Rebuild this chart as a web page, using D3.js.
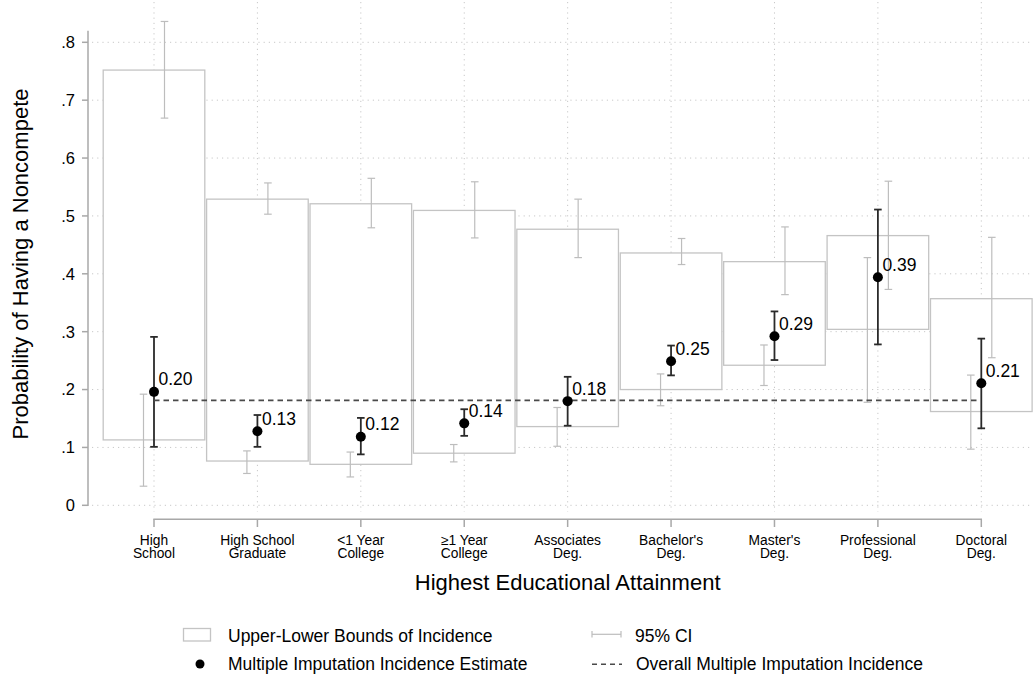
<!DOCTYPE html>
<html>
<head>
<meta charset="utf-8">
<script src="https://cdn.jsdelivr.net/npm/d3@7"></script>
<style>
  body { margin: 0; background: #fff; }
  svg { font-family: "Liberation Sans", Arial, Helvetica, sans-serif; }
</style>
</head>
<body>
<div id="chart"></div>
<script>
// categories (two-line tick labels)
const categories = ["hs", "hsg", "lt1", "ge1", "assoc", "bach", "mast", "prof", "doct"];
const tickLabels = [
  ["High", "School"], ["High School", "Graduate"], ["<1 Year", "College"], ["\u22651 Year", "College"],
  ["Associates", "Deg."], ["Bachelor's", "Deg."], ["Master's", "Deg."], ["Professional", "Deg."], ["Doctoral", "Deg."]
];

// box = upper/lower bounds of incidence
const boundUpper = [0.752, 0.529, 0.521, 0.5095, 0.477, 0.436, 0.421, 0.466, 0.357];
const boundLower = [0.113, 0.0765, 0.0708, 0.090, 0.136, 0.200, 0.242, 0.304, 0.162];

// 95% CI of the upper bound
const upperCiHi = [0.836, 0.557, 0.565, 0.559, 0.529, 0.461, 0.481, 0.560, 0.463];
const upperCiLo = [0.669, 0.503, 0.4795, 0.462, 0.428, 0.416, 0.364, 0.373, 0.255];

// 95% CI of the lower bound
const lowerCiHi = [0.192, 0.094, 0.092, 0.105, 0.169, 0.227, 0.277, 0.428, 0.225];
const lowerCiLo = [0.033, 0.055, 0.049, 0.075, 0.102, 0.172, 0.207, 0.178, 0.097];

// multiple imputation estimate and its CI
const estimate = [0.196, 0.128, 0.1185, 0.1416, 0.180, 0.249, 0.292, 0.394, 0.211];
const estCiHi  = [0.291, 0.156, 0.151, 0.166, 0.222, 0.276, 0.335, 0.511, 0.288];
const estCiLo  = [0.101, 0.101, 0.088, 0.120, 0.1375, 0.2245, 0.251, 0.278, 0.133];

const overall = 0.1813;
const yTicks = [0, 0.1, 0.2, 0.3, 0.4, 0.5, 0.6, 0.7, 0.8];

const WIDTH = 1036, HEIGHT = 679;

const svg = d3.select("#chart").append("svg")
  .attr("width", WIDTH)
  .attr("height", HEIGHT);

const x = d3.scalePoint().domain(categories).range([154, 981.3]);
const y = d3.scaleLinear().domain([0, 0.8]).range([505.3, 42.3]);
const step = x.step();
const barW = step - 1.8;

const rows = categories.map((c, i) => ({
  c, i,
  bu: boundUpper[i], bl: boundLower[i],
  uh: upperCiHi[i], ul: upperCiLo[i],
  lh: lowerCiHi[i], ll: lowerCiLo[i],
  e: estimate[i], eh: estCiHi[i], el: estCiLo[i]
}));

// grid
const grid = svg.append("g").attr("stroke", "#c8c8c8").attr("stroke-width", 1)
  .attr("stroke-dasharray", "1.2,4");
grid.selectAll("line.h").data(yTicks).enter().append("line")
  .attr("x1", 92).attr("x2", 1032)
  .attr("y1", d => y(d)).attr("y2", d => y(d));
grid.selectAll("line.v").data(categories).enter().append("line")
  .attr("x1", d => x(d)).attr("x2", d => x(d))
  .attr("y1", 2).attr("y2", 512);

// boxes
svg.append("g").selectAll("rect").data(rows).enter().append("rect")
  .attr("x", d => x(d.c) - barW / 2)
  .attr("width", barW)
  .attr("y", d => y(d.bu))
  .attr("height", d => y(d.bl) - y(d.bu))
  .attr("fill", "#fff")
  .attr("stroke", "#c4c4c4")
  .attr("stroke-width", 1.3);

function ciBars(g, data, dx, hi, lo, color, sw, cap) {
  const s = g.selectAll(null).data(data).enter().append("g")
    .attr("stroke", color).attr("stroke-width", sw);
  s.append("line")
    .attr("x1", d => x(d.c) + dx).attr("x2", d => x(d.c) + dx)
    .attr("y1", d => y(hi(d))).attr("y2", d => y(lo(d)));
  s.append("line")
    .attr("x1", d => x(d.c) + dx - cap).attr("x2", d => x(d.c) + dx + cap)
    .attr("y1", d => y(hi(d))).attr("y2", d => y(hi(d)));
  s.append("line")
    .attr("x1", d => x(d.c) + dx - cap).attr("x2", d => x(d.c) + dx + cap)
    .attr("y1", d => y(lo(d))).attr("y2", d => y(lo(d)));
}

const ciG = svg.append("g");
ciBars(ciG, rows, 10.5, d => d.uh, d => d.ul, "#bdbdbd", 1.2, 3.8);
ciBars(ciG, rows, -10.5, d => d.lh, d => d.ll, "#bdbdbd", 1.2, 3.8);

// overall dashed line
svg.append("line")
  .attr("x1", x(categories[0])).attr("x2", x(categories[categories.length - 1]) - 4)
  .attr("y1", y(overall)).attr("y2", y(overall))
  .attr("stroke", "#4a4a4a").attr("stroke-width", 1.6)
  .attr("stroke-dasharray", "5.5,4");

// estimates
ciBars(ciG.append("g"), rows, 0, d => d.eh, d => d.el, "#2a2a2a", 1.8, 3.8);
svg.append("g").selectAll("circle").data(rows).enter().append("circle")
  .attr("cx", d => x(d.c)).attr("cy", d => y(d.e)).attr("r", 5)
  .attr("fill", "#000");
svg.append("g").selectAll("text").data(rows).enter().append("text")
  .attr("x", d => x(d.c) + 4.5).attr("y", d => y(d.e) - 6.5)
  .attr("font-size", 17.5).attr("fill", "#000")
  .text(d => d3.format(".2f")(d.e));

// y axis
const yAxis = svg.append("g").attr("stroke", "#a8a8a8").attr("stroke-width", 1.5);
yAxis.append("line").attr("x1", 88).attr("x2", 88).attr("y1", y(0.82)).attr("y2", y(0) + 0.7);
yAxis.selectAll("line.t").data(yTicks).enter().append("line")
  .attr("x1", 82).attr("x2", 88).attr("y1", d => y(d)).attr("y2", d => y(d));
svg.append("g").selectAll("text").data(yTicks).enter().append("text")
  .attr("x", 75).attr("y", d => y(d)).attr("dy", "0.36em")
  .attr("text-anchor", "end").attr("font-size", 16.5).attr("fill", "#000")
  .text(d => d === 0 ? "0" : d3.format(".1f")(d).replace(/^0/, ""));

svg.append("text")
  .attr("transform", "translate(28,264) rotate(-90)")
  .attr("text-anchor", "middle").attr("font-size", 22).attr("fill", "#000")
  .text("Probability of Having a Noncompete");

// x axis
const xAxis = svg.append("g").attr("stroke", "#a8a8a8").attr("stroke-width", 1.5);
xAxis.append("line").attr("x1", x(categories[0]) - 0.7).attr("x2", x(categories[8]) + 0.7)
  .attr("y1", 519.3).attr("y2", 519.3);
xAxis.selectAll("line.t").data(categories).enter().append("line")
  .attr("x1", d => x(d)).attr("x2", d => x(d)).attr("y1", 519.3).attr("y2", 527);
const xl = svg.append("g").selectAll("text").data(categories).enter().append("text")
  .attr("text-anchor", "middle").attr("font-size", 13.8).attr("fill", "#000");
xl.append("tspan").attr("x", d => x(d)).attr("y", 545).text((d, i) => tickLabels[i][0]);
xl.append("tspan").attr("x", d => x(d)).attr("y", 558.3).text((d, i) => tickLabels[i][1]);

svg.append("text")
  .attr("x", (x(categories[0]) + x(categories[8])) / 2).attr("y", 590)
  .attr("text-anchor", "middle").attr("font-size", 22).attr("fill", "#000")
  .text("Highest Educational Attainment");

// legend
const lg = svg.append("g").attr("font-size", 17.5).attr("fill", "#000");
lg.append("rect").attr("x", 183.5).attr("y", 628.5).attr("width", 27).attr("height", 12.5)
  .attr("fill", "#fff").attr("stroke", "#c4c4c4").attr("stroke-width", 1.3);
lg.append("text").attr("x", 228).attr("y", 642.3).text("Upper-Lower Bounds of Incidence");
lg.append("circle").attr("cx", 200).attr("cy", 664).attr("r", 4.5).attr("fill", "#000");
lg.append("text").attr("x", 228).attr("y", 670).text("Multiple Imputation Incidence Estimate");

const ciSym = lg.append("g").attr("stroke", "#bdbdbd").attr("stroke-width", 1.2);
ciSym.append("line").attr("x1", 592).attr("x2", 621).attr("y1", 634.3).attr("y2", 634.3);
ciSym.append("line").attr("x1", 592).attr("x2", 592).attr("y1", 631).attr("y2", 637.6);
ciSym.append("line").attr("x1", 621).attr("x2", 621).attr("y1", 631).attr("y2", 637.6);
lg.append("text").attr("x", 635).attr("y", 642.3).text("95% CI");
lg.append("line").attr("x1", 592).attr("x2", 622).attr("y1", 664.3).attr("y2", 664.3)
  .attr("stroke", "#4a4a4a").attr("stroke-width", 1.5).attr("stroke-dasharray", "5,4");
lg.append("text").attr("x", 636).attr("y", 670).text("Overall Multiple Imputation Incidence");
</script>
</body>
</html>
